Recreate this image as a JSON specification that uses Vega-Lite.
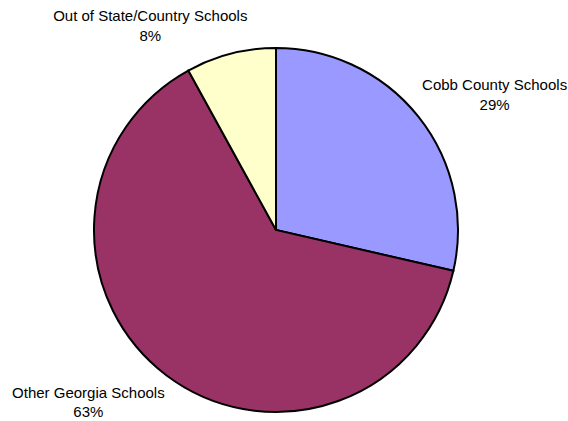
{
  "$schema": "https://vega.github.io/schema/vega-lite/v6.json",
  "width": 552,
  "height": 382,
  "autosize": {"type": "none"},
  "padding": {"left": 0, "top": 39, "right": 16, "bottom": 0},
  "background": "white",
  "config": {"view": {"stroke": null}, "text": {"font": "Liberation Sans"}},
  "data": {
    "values": [
      {"idx": 1, "category": "Cobb County Schools", "value": 28.6, "label": "Cobb County Schools\n29%"},
      {"idx": 2, "category": "Other Georgia Schools", "value": 63.4, "label": "Other Georgia Schools\n63%"},
      {"idx": 3, "category": "Out of State/Country Schools", "value": 8.0, "label": "Out of State/Country Schools\n8%"}
    ]
  },
  "encoding": {
    "theta": {"field": "value", "type": "quantitative", "stack": true},
    "order": {"field": "idx", "type": "quantitative"}
  },
  "layer": [
    {
      "mark": {"type": "arc", "outerRadius": 182, "stroke": "black", "strokeWidth": 2},
      "encoding": {
        "color": {
          "field": "category",
          "type": "nominal",
          "scale": {
            "domain": ["Cobb County Schools", "Other Georgia Schools", "Out of State/Country Schools"],
            "range": ["#9999FF", "#993366", "#FFFFCC"]
          },
          "legend": null
        }
      }
    },
    {
      "mark": {"type": "text", "radius": 250, "dx": 23, "dy": 16, "fontSize": 15, "lineBreak": "\n", "lineHeight": 20, "align": "center", "baseline": "alphabetic", "color": "black"},
      "encoding": {"text": {"condition": {"test": "datum.idx == 1", "field": "label"}, "value": ""}}
    },
    {
      "mark": {"type": "text", "radius": 215, "dx": -58, "dy": -4, "fontSize": 15, "lineBreak": "\n", "lineHeight": 19, "align": "center", "baseline": "alphabetic", "color": "black"},
      "encoding": {"text": {"condition": {"test": "datum.idx == 2", "field": "label"}, "value": ""}}
    },
    {
      "mark": {"type": "text", "radius": 212, "dx": -73, "dy": -4, "fontSize": 15, "lineBreak": "\n", "lineHeight": 20, "align": "center", "baseline": "alphabetic", "color": "black"},
      "encoding": {"text": {"condition": {"test": "datum.idx == 3", "field": "label"}, "value": ""}}
    }
  ]
}
